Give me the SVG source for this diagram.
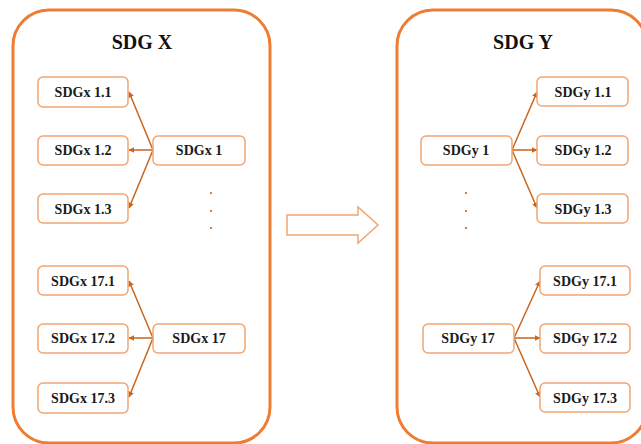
<svg xmlns="http://www.w3.org/2000/svg" width="641" height="444" viewBox="0 0 641 444">
<defs>
<style>
.container{fill:#fff;stroke:#ED7D31;stroke-width:3}
.box{fill:#fff;stroke:#F0A672;stroke-width:1.5}
.lbl{font-family:"Liberation Serif",serif;font-weight:bold;font-size:14px;fill:#1a1a1a;text-anchor:middle}
.title{font-family:"Liberation Serif",serif;font-weight:bold;font-size:20px;fill:#111;text-anchor:middle}
.conn{stroke:#C9651F;stroke-width:1.5;fill:none;marker-end:url(#ah)}
.dot{fill:#C9651F}
</style>
<marker id="ah" viewBox="0 0 10 10" refX="9" refY="5" markerWidth="6" markerHeight="6" orient="auto" markerUnits="userSpaceOnUse">
<path d="M0,0 L10,5 L0,10 z" fill="#C9651F"/>
</marker>
</defs>
<rect width="641" height="444" fill="#fff"/>
<g id="containerX"><rect class="container" x="13" y="10" width="257" height="433" rx="36"/><text class="title" x="142" y="49">SDG X</text></g>
<g id="containerY"><rect class="container" x="397" y="10" width="250" height="433" rx="36"/><text class="title" x="523" y="49">SDG Y</text></g>

<g id="transform-arrow"><polygon points="287,215 358,215 358,207 378,225 358,243 358,235 287,235" fill="#fff" stroke="#F0A672" stroke-width="1.5"/></g>

<g id="connectors">
<line class="conn" x1="153" y1="150" x2="129" y2="92"/>
<line class="conn" x1="153" y1="150" x2="129" y2="150"/>
<line class="conn" x1="153" y1="150" x2="129" y2="208"/>
<line class="conn" x1="153" y1="338" x2="129" y2="281"/>
<line class="conn" x1="153" y1="338" x2="129" y2="338"/>
<line class="conn" x1="153" y1="338" x2="129" y2="397"/>
<line class="conn" x1="512" y1="150" x2="537" y2="92"/>
<line class="conn" x1="512" y1="150" x2="537" y2="150"/>
<line class="conn" x1="512" y1="150" x2="537" y2="208"/>
<line class="conn" x1="514" y1="338" x2="540" y2="281"/>
<line class="conn" x1="514" y1="338" x2="540" y2="338"/>
<line class="conn" x1="514" y1="338" x2="540" y2="397"/>
</g>

<g id="dotsX"><circle class="dot" cx="211" cy="193" r="1.1"/><circle class="dot" cx="211" cy="211" r="1.1"/><circle class="dot" cx="211" cy="228" r="1.1"/></g>
<g id="dotsY"><circle class="dot" cx="466" cy="193" r="1.1"/><circle class="dot" cx="466" cy="211" r="1.1"/><circle class="dot" cx="466" cy="228" r="1.1"/></g>

<g id="SDGx1"><rect class="box" x="153" y="136" width="92" height="29" rx="5"/><text class="lbl" x="199" y="155">SDGx 1</text></g>
<g id="SDGx1.1"><rect class="box" x="38" y="77" width="90" height="30" rx="5"/><text class="lbl" x="83" y="97">SDGx 1.1</text></g>
<g id="SDGx1.2"><rect class="box" x="38" y="136" width="90" height="29" rx="5"/><text class="lbl" x="83" y="155">SDGx 1.2</text></g>
<g id="SDGx1.3"><rect class="box" x="38" y="194" width="90" height="29" rx="5"/><text class="lbl" x="83" y="214">SDGx 1.3</text></g>
<g id="SDGx17"><rect class="box" x="153" y="324" width="92" height="29" rx="5"/><text class="lbl" x="199" y="343">SDGx 17</text></g>
<g id="SDGx17.1"><rect class="box" x="38" y="266" width="90" height="29" rx="5"/><text class="lbl" x="83" y="286">SDGx 17.1</text></g>
<g id="SDGx17.2"><rect class="box" x="38" y="324" width="90" height="29" rx="5"/><text class="lbl" x="83" y="343">SDGx 17.2</text></g>
<g id="SDGx17.3"><rect class="box" x="38" y="383" width="90" height="30" rx="5"/><text class="lbl" x="83" y="403">SDGx 17.3</text></g>

<g id="SDGy1"><rect class="box" x="421" y="136" width="91" height="29" rx="5"/><text class="lbl" x="466" y="155">SDGy 1</text></g>
<g id="SDGy1.1"><rect class="box" x="537" y="77" width="91" height="29" rx="5"/><text class="lbl" x="583" y="97">SDGy 1.1</text></g>
<g id="SDGy1.2"><rect class="box" x="537" y="136" width="91" height="29" rx="5"/><text class="lbl" x="583" y="155">SDGy 1.2</text></g>
<g id="SDGy1.3"><rect class="box" x="537" y="194" width="91" height="29" rx="5"/><text class="lbl" x="583" y="214">SDGy 1.3</text></g>
<g id="SDGy17"><rect class="box" x="423" y="324" width="91" height="29" rx="5"/><text class="lbl" x="468" y="343">SDGy 17</text></g>
<g id="SDGy17.1"><rect class="box" x="540" y="266" width="90" height="29" rx="5"/><text class="lbl" x="585" y="286">SDGy 17.1</text></g>
<g id="SDGy17.2"><rect class="box" x="540" y="324" width="90" height="29" rx="5"/><text class="lbl" x="585" y="343">SDGy 17.2</text></g>
<g id="SDGy17.3"><rect class="box" x="540" y="383" width="90" height="29" rx="5"/><text class="lbl" x="585" y="403">SDGy 17.3</text></g>
</svg>
